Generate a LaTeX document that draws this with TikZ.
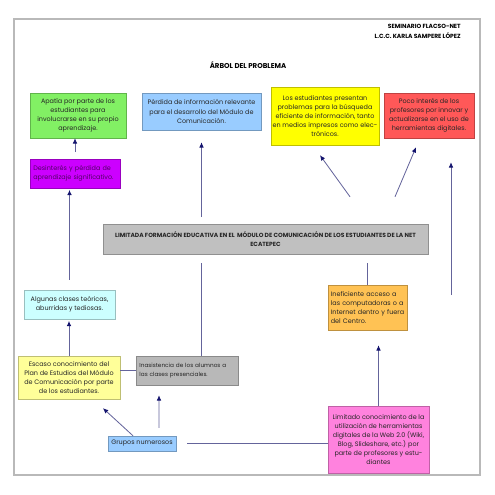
\documentclass[tikz,border=0pt]{standalone}
\usepackage{fontspec}
\setmainfont{Poppins}
\usetikzlibrary{arrows.meta}

\definecolor{verde}{RGB}{130,240,100}
\definecolor{morado}{RGB}{204,0,255}
\definecolor{azul}{RGB}{153,204,255}
\definecolor{amarillo}{RGB}{255,255,0}
\definecolor{rojo}{RGB}{255,88,88}
\definecolor{gris}{RGB}{192,192,192}
\definecolor{grisosc}{RGB}{184,184,184}
\definecolor{celeste}{RGB}{204,255,255}
\definecolor{crema}{RGB}{255,255,153}
\definecolor{naranja}{RGB}{255,194,84}
\definecolor{rosa}{RGB}{255,130,222}
\definecolor{linea}{RGB}{100,100,155}
\definecolor{punta}{RGB}{20,20,110}

\begin{document}
\begin{tikzpicture}[x=0.03cm, y=-0.03cm]
      % Styles
      \tikzset{
        box/.style={draw=#1!75!black, fill=#1, line width=0.4pt, inner sep=1.5pt,
          align=center, text=black!85, font=\fontsize{5.5}{7.8}\selectfont},
        arrow/.style={draw=linea, line width=0.7pt, -{Latex[length=4.5pt, width=4pt, color=punta]}},
        link/.style={draw=linea, line width=0.7pt},
      }
      \useasboundingbox (0,0) rectangle (495,495);
      % Frame
      \draw[gray!55, line width=1pt] (14,19) rectangle (480,475);
      % Header
      \node (autor) [anchor=north east, align=right, inner sep=0pt,
        font=\fontsize{5.1}{8.5}\selectfont\bfseries] at (461,24)
        {SEMINARIO FLACSO-NET\\L.C.C. KARLA SAMPERE LÓPEZ};
      \node (titulo) [font=\fontsize{6}{7}\selectfont\bfseries] at (248,65) {ÁRBOL DEL PROBLEMA};
      % Effects
      \node (apatia) [box=verde, minimum width=2.88cm, minimum height=1.35cm] at (78,115.5)
        {Apatía por parte de los\\estudiantes para\\involucrarse en su propio\\aprendizaje.};
      \node (desinteres) [box=morado, minimum width=2.7cm, minimum height=0.87cm,
        text width=2.5cm, align=left, text=morado!40!black] at (75,173.5)
        {Desinterés y pérdida de\\aprendizaje significativo.};
      \node (perdida) [box=azul, minimum width=3.57cm, minimum height=1.11cm] at (201.5,111.5)
        {Pérdida de información relevante\\para el desarrollo del Módulo de\\Comunicación.};
      \node (estudiantes) [box=amarillo, minimum width=3.18cm, minimum height=1.74cm] at (325,116)
        {Los estudiantes presentan\\problemas para la búsqueda\\eficiente de información, tanto\\en medios impresos como elec-\\trónicos.};
      \node (poco) [box=rojo, minimum width=2.7cm, minimum height=1.35cm] at (429,115.5)
        {Poco interés de los\\profesores por innovar y\\actualizarse en el uso de\\herramientas digitales.};
      % Problem
      \node (central) [box=gris, minimum width=9.75cm, minimum height=0.9cm,
        font=\fontsize{5.1}{7.5}\selectfont\bfseries] at (265.5,239)
        {LIMITADA FORMACIÓN EDUCATIVA EN EL \ MÓDULO DE COMUNICACIÓN DE LOS ESTUDIANTES DE LA NET\\ECATEPEC};
      % Causes
      \node (algunas) [box=celeste, minimum width=2.73cm, minimum height=0.87cm] at (69.5,304.5)
        {Algunas clases teóricas,\\aburridas y tediosas.};
      \node (escaso) [box=crema, minimum width=3.06cm, minimum height=1.29cm] at (69,377.5)
        {Escaso conocimiento del\\Plan de Estudios del Módulo\\de Comunicación por parte\\de los estudiantes.};
      \node (inasistencia) [box=grisosc, minimum width=3.06cm, minimum height=0.87cm,
        text width=2.85cm, align=left, font=\fontsize{4.9}{7.8}\selectfont] at (187,370.5)
        {Inasistencia de los alumnos a\\las clases presenciales.};
      \node (ineficiente) [box=naranja, minimum width=2.37cm, minimum height=1.35cm,
        text width=2.2cm, align=left] at (367.5,307.5)
        {Ineficiente acceso a\\las computadoras o a\\Internet dentro y fuera\\del Centro.};
      \node (limitado) [box=rosa, minimum width=3.03cm, minimum height=2.01cm] at (378.5,439.5)
        {Limitado conocimiento de la\\utilización de herramientas\\digitales de la Web 2.0 (Wiki,\\Blog, Slideshare, etc.) por\\parte de profesores y estu-\\diantes};
      \node (grupos) [box=azul, minimum width=2.04cm, minimum height=0.45cm] at (142,443.5)
        {Grupos numerosos};
      \coordinate (pie) at (451,295);
      % Arrows
      \draw[arrow, shorten <=2mm] (desinteres.north) -- (desinteres.north |- apatia.south);
      \draw[arrow, shorten <=3mm, shorten >=0.5mm] (algunas.north) -- (algunas.north |- desinteres.south);
      \draw[arrow, shorten >=0.5mm] (escaso.north) -- (escaso.north |- algunas.south);
      \draw[link, shorten >=2.7mm] (inasistencia.north -| perdida.south) -- (central.south -| perdida.south);
      \draw[link, shorten >=2.7mm] (ineficiente.north) -- (ineficiente.north |- central.south);
      \draw[arrow, shorten <=2mm, shorten >=3.6mm] (central.north -| perdida.south) -- (perdida.south);
      \draw[arrow] ([xshift=2.535cm, yshift=0.81cm]central.north) -- ([xshift=-0.15cm, yshift=-0.3cm]estudiantes.south);
      \draw[arrow] ([xshift=3.885cm, yshift=0.81cm]central.north) -- ([xshift=-0.39cm, yshift=-0.27cm]poco.south);
      \draw[arrow, shorten >=7.2mm] (pie) -- (pie |- poco.south);
      \draw[link] (inasistencia.west -| escaso.east) -- (inasistencia.west);
      \draw[arrow, shorten >=4.5mm] (limitado.north) -- (limitado.north |- ineficiente.south);
      \draw[link, shorten <=3.3mm] (grupos.east) -- (grupos.east -| limitado.west);
      \draw[arrow] ([xshift=-0.27cm]grupos.north) -- ([xshift=1.02cm, yshift=-0.27cm]escaso.south);
      \draw[arrow] ([xshift=0.51cm, yshift=0.24cm]grupos.north) -- ([xshift=-0.84cm, yshift=-0.3cm]inasistencia.south);
    \end{tikzpicture}
\end{document}
